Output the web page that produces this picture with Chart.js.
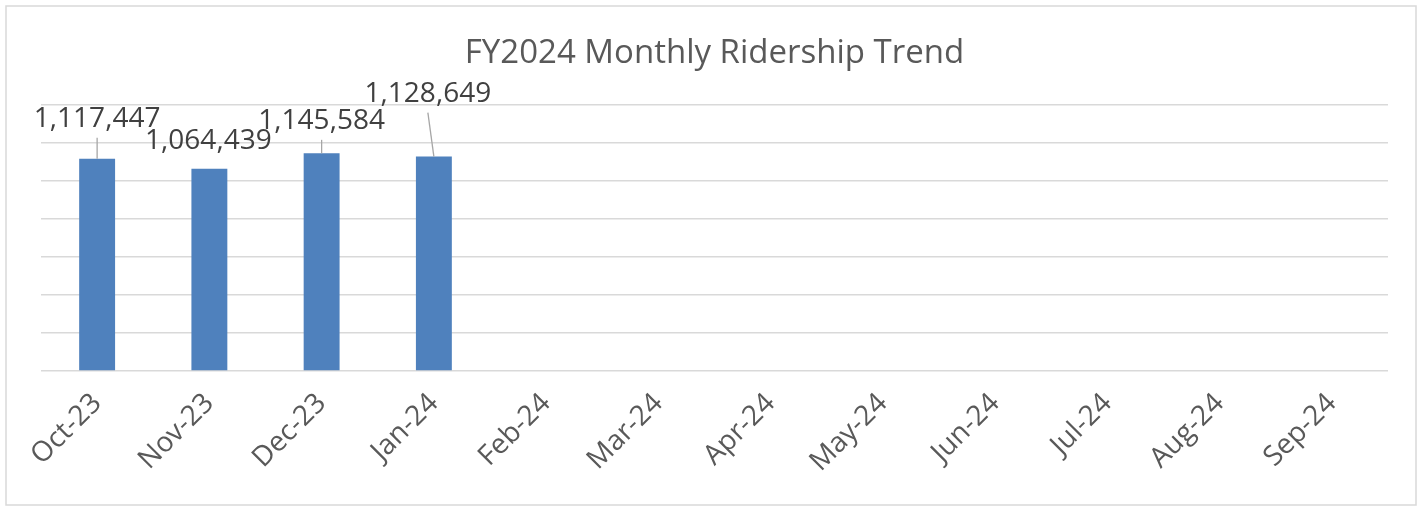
<!DOCTYPE html>
<html>
<head>
<meta charset="utf-8">
<script src="https://cdn.jsdelivr.net/npm/chart.js@4/dist/chart.umd.min.js"></script>
<style>
  html, body { margin: 0; padding: 0; background: #fff; }
  #wrap { width: 1421px; height: 506px; position: relative; }
</style>
</head>
<body>
<div id="wrap"><canvas id="myChart"></canvas></div>
<script>
// data
const months = ['Oct-23', 'Nov-23', 'Dec-23', 'Jan-24', 'Feb-24', 'Mar-24',
                'Apr-24', 'May-24', 'Jun-24', 'Jul-24', 'Aug-24', 'Sep-24'];
const ridership = [1117447, 1064439, 1145584, 1128649, null, null,
                   null, null, null, null, null, null];
const yTicks = [0, 200000, 400000, 600000, 800000, 1000000, 1200000, 1400000];

// where each data label sits relative to the top of its bar
const labelShift = [[0, -42], [-1, -30], [0, -34.5], [-6, -65]];
const hasLeader = [true, false, true, true];

const FONT = "'Open Sans', sans-serif";

const frame = {
    id: 'frame',
    beforeDraw(chart) {
        const ctx = chart.ctx;
        ctx.save();
        ctx.fillStyle = '#fff';
        ctx.fillRect(0, 0, chart.width, chart.height);
        ctx.strokeStyle = '#d9d9d9';
        ctx.lineWidth = 1.5;
        ctx.strokeRect(6, 6, 1410, 499);
        ctx.restore();
    }
};

const dataLabels = {
    id: 'dataLabels',
    afterDatasetsDraw(chart) {
        const ctx = chart.ctx;
        const meta = chart.getDatasetMeta(0);
        ctx.save();
        meta.data.forEach((bar, i) => {
            const v = ridership[i];
            if (v == null) return;
            const shift = labelShift[i] || [0, -30];
            const tx = bar.x + shift[0];
            const ty = bar.y + shift[1];
            if (hasLeader[i]) {
                ctx.strokeStyle = '#a6a6a6';
                ctx.lineWidth = 1.3;
                ctx.beginPath();
                ctx.moveTo(tx, ty + 21);
                ctx.lineTo(bar.x, bar.y);
                ctx.stroke();
            }
            ctx.font = '28px ' + FONT;
            ctx.fillStyle = '#404040';
            ctx.textAlign = 'center';
            ctx.textBaseline = 'alphabetic';
            ctx.fillText(v.toLocaleString('en-US'), tx, ty + 10);
        });
        ctx.restore();
    }
};

new Chart(document.getElementById('myChart'), {
    type: 'bar',
    data: {
        labels: months,
        datasets: [{
            label: 'Ridership',
            data: ridership,
            backgroundColor: '#4f81bd',
            borderWidth: 0,
            categoryPercentage: 1,
            barPercentage: 0.32
        }]
    },
    options: {
        responsive: true,
        maintainAspectRatio: false,
        animation: false,
        layout: { padding: { left: 41, right: 33, top: 0, bottom: 0 } },
        plugins: {
            legend: { display: false },
            tooltip: { enabled: false },
            title: {
                display: true,
                text: 'FY2024 Monthly Ridership Trend',
                color: '#595959',
                font: { family: FONT, size: 33, weight: 'normal' },
                padding: { top: 34, bottom: 31.4 }
            }
        },
        scales: {
            x: {
                grid: { display: false },
                border: { display: false },
                ticks: {
                    color: '#595959',
                    font: { family: FONT, size: 28 },
                    maxRotation: 45,
                    minRotation: 45,
                    padding: 8,
                    autoSkip: false
                },
                afterFit(scale) { scale.height = 135; }
            },
            y: {
                min: 0,
                max: 1400000,
                afterBuildTicks(scale) { scale.ticks = yTicks.map(v => ({ value: v })); },
                ticks: { display: false },
                grid: { color: '#d9d9d9', lineWidth: 1.5, drawTicks: false },
                border: { display: false },
                afterFit(scale) { scale.width = 0; }
            }
        }
    },
    plugins: [frame, dataLabels]
});
</script>
</body>
</html>
